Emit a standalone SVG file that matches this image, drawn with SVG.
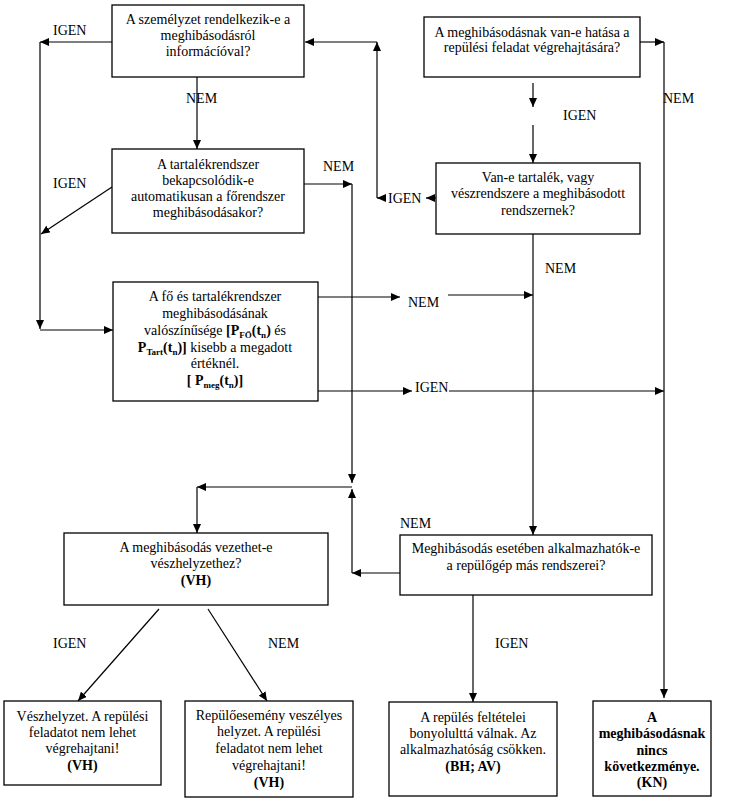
<svg xmlns="http://www.w3.org/2000/svg" width="736" height="806" viewBox="0 0 736 806">
<defs>
<marker id="ah" markerUnits="userSpaceOnUse" markerWidth="10" markerHeight="8" refX="9" refY="4" orient="auto">
<path d="M0,0 L9,4 L0,8 z" fill="#000"/>
</marker>
<style>
.box{fill:#fff;stroke:#000;stroke-width:1.3}
.t{font-family:"Liberation Serif","Times New Roman",serif;font-size:14px;fill:#000;text-anchor:middle}
.lb{font-family:"Liberation Serif","Times New Roman",serif;font-size:14px;fill:#000}
.b{font-weight:bold}
.s{font-size:9px;font-weight:bold}
.c{fill:none;stroke:#000;stroke-width:1.2;marker-end:url(#ah)}
</style>
</defs>
<rect width="736" height="806" fill="#fff"/>

<g id="connectors">
<path class="c" d="M112,42 H40"/>
<path class="c" d="M40,42 V329"/>
<path class="c" d="M40,330 H113"/>
<path class="c" d="M112,187 L41,234"/>
<path class="c" d="M197,70 V149"/>
<path class="c" d="M304,184 H352"/>
<path class="c" d="M352,184 V483"/>
<path class="c" d="M352,487 H197"/>
<path class="c" d="M197,487 V533"/>
<path class="c" d="M400,573 H352"/>
<path class="c" d="M352,573 V489"/>
<path class="c" d="M640,42 H664"/>
<path class="c" d="M664,42 V698"/>
<path class="c" d="M533,83 V107"/>
<path class="c" d="M533,125 V163"/>
<path class="c" d="M436,198 H426"/>
<path class="c" d="M386,198 H377"/>
<path class="c" d="M377,198 V42"/>
<path class="c" d="M377,42 H305"/>
<path class="c" d="M533,234 V535"/>
<path class="c" d="M318,297 H400"/>
<path class="c" d="M448,295 H533"/>
<path class="c" d="M318,391 H412"/>
<path class="c" d="M449,391 H664"/>
<path class="c" d="M473,595 V702"/>
<path class="c" d="M159,609 L78,701"/>
<path class="c" d="M208,609 L267,701"/>
</g>

<g id="labels">
<text class="lb" x="53" y="35">IGEN</text>
<text class="lb" x="186" y="103">NEM</text>
<text class="lb" x="53" y="188">IGEN</text>
<text class="lb" x="323" y="171">NEM</text>
<text class="lb" x="663" y="103">NEM</text>
<text class="lb" x="563" y="120">IGEN</text>
<text class="lb" x="388" y="203">IGEN</text>
<text class="lb" x="545" y="273">NEM</text>
<text class="lb" x="408" y="307">NEM</text>
<text class="lb" x="415" y="392">IGEN</text>
<text class="lb" x="400" y="528">NEM</text>
<text class="lb" x="53" y="648">IGEN</text>
<text class="lb" x="268" y="648">NEM</text>
<text class="lb" x="495" y="648">IGEN</text>
</g>

<g id="n1">
<rect class="box" x="112" y="5" width="192" height="72"/>
<text class="t" x="208" y="24">A személyzet rendelkezik-e a</text>
<text class="t" x="208" y="40">meghibásodásról</text>
<text class="t" x="208" y="56">informácíóval?</text>
</g>

<g id="n2">
<rect class="box" x="424" y="17" width="216" height="60"/>
<text class="t" x="532" y="37">A meghibásodásnak van-e hatása a</text>
<text class="t" x="532" y="52">repülési feladat végrehajtására?</text>
</g>

<g id="n3">
<rect class="box" x="112" y="149" width="192" height="84"/>
<text class="t" x="208" y="169">A tartalékrendszer</text>
<text class="t" x="208" y="185">bekapcsolódik-e</text>
<text class="t" x="208" y="201">automatikusan a főrendszer</text>
<text class="t" x="208" y="217">meghibásodásakor?</text>
</g>

<g id="n4">
<rect class="box" x="436" y="163" width="204" height="71"/>
<text class="t" x="538" y="182">Van-e tartalék, vagy</text>
<text class="t" x="538" y="198">vészrendszere a meghibásodott</text>
<text class="t" x="538" y="215">rendszernek?</text>
</g>

<g id="n5">
<rect class="box" x="113" y="282" width="205" height="119"/>
<text class="t" x="215" y="301">A fő és tartalékrendszer</text>
<text class="t" x="215" y="318">meghibásodásának</text>
<text class="t" x="215" y="335">valószínűsége <tspan class="b">[P</tspan><tspan class="s" dy="3">FŐ</tspan><tspan class="b" dy="-3">(t</tspan><tspan class="s" dy="3">n</tspan><tspan class="b" dy="-3">) </tspan>és</text>
<text class="t" x="215" y="352"><tspan class="b">P</tspan><tspan class="s" dy="3">Tart</tspan><tspan class="b" dy="-3">(t</tspan><tspan class="s" dy="3">n</tspan><tspan class="b" dy="-3">)]</tspan> kisebb a megadott</text>
<text class="t" x="215" y="368">értéknél.</text>
<text class="t b" x="215" y="385">[ P<tspan class="s" dy="3">meg</tspan><tspan dy="-3">(t</tspan><tspan class="s" dy="3">n</tspan><tspan dy="-3">)]</tspan></text>
</g>

<g id="n6">
<rect class="box" x="64" y="533" width="264" height="72"/>
<text class="t" x="196" y="552">A meghibásodás vezethet-e</text>
<text class="t" x="196" y="568">vészhelyzethez?</text>
<text class="t b" x="196" y="585">(VH)</text>
</g>

<g id="n7">
<rect class="box" x="400" y="535" width="252" height="60"/>
<text class="t" x="526" y="553">Meghibásodás esetében alkalmazhatók-e</text>
<text class="t" x="526" y="570">a repülőgép más rendszerei?</text>
</g>

<g id="n8">
<rect class="box" x="4" y="701" width="157" height="84"/>
<text class="t" x="82.5" y="721">Vészhelyzet. A repülési</text>
<text class="t" x="82.5" y="737">feladatot nem lehet</text>
<text class="t" x="82.5" y="753">végrehajtani!</text>
<text class="t b" x="82.5" y="770">(VH)</text>
</g>

<g id="n9">
<rect class="box" x="185" y="701" width="168" height="96"/>
<text class="t" x="269" y="720">Repülőesemény veszélyes</text>
<text class="t" x="269" y="736">helyzet. A repülési</text>
<text class="t" x="269" y="753">feladatot nem lehet</text>
<text class="t" x="269" y="770">végrehajtani!</text>
<text class="t b" x="269" y="787">(VH)</text>
</g>

<g id="n10">
<rect class="box" x="389" y="702" width="168" height="94"/>
<text class="t" x="473" y="722">A repülés feltételei</text>
<text class="t" x="473" y="738">bonyolulttá válnak. Az</text>
<text class="t" x="473" y="754">alkalmazhatóság csökken.</text>
<text class="t b" x="473" y="771">(BH; AV)</text>
</g>

<g id="n11">
<rect class="box" x="593" y="701" width="118" height="95"/>
<text class="t b" x="652" y="722">A</text>
<text class="t b" x="652" y="738">meghibásodásnak</text>
<text class="t b" x="652" y="755">nincs</text>
<text class="t b" x="652" y="771">következménye.</text>
<text class="t b" x="652" y="787">(KN)</text>
</g>
</svg>
